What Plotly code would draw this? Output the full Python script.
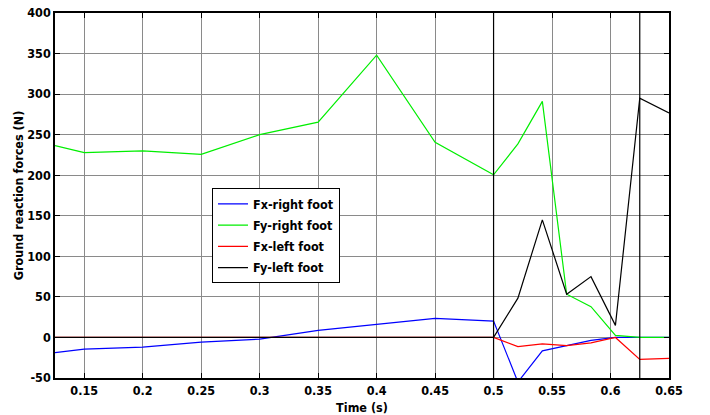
import plotly.graph_objects as go

# Time samples (s)
time_s = [0.125, 0.15, 0.2, 0.25, 0.3, 0.35, 0.4, 0.45, 0.5,
          0.5208, 0.5417, 0.5625, 0.5833, 0.6042, 0.625, 0.65]

fx_right = [-18.6, -14.5, -12.0, -5.8, -2.1, 8.7, 16.0, 23.6, 20.2,
            -55.0, -16.6, -10.0, -3.7, 0.0, 0.0, 0.0]
fy_right = [236.5, 227.8, 230.0, 225.8, 250.0, 265.5, 348.0, 240.7, 200.5,
            238.6, 291.0, 53.3, 38.0, 2.5, 0.0, 0.0]
fx_left = [0.0, 0.0, 0.0, 0.0, 0.0, 0.0, 0.0, 0.0, 0.0,
           -11.2, -7.9, -10.0, -6.7, 0.0, -27.0, -25.7]
fy_left = [0.0, 0.0, 0.0, 0.0, 0.0, 0.0, 0.0, 0.0, 0.0,
           48.4, 145.0, 53.3, 75.0, 14.9, 295.0, 276.7]

series_names = ["Fx-right foot", "Fy-right foot", "Fx-left foot", "Fy-left foot"]
series_colors = ["#0000ff", "#00ee00", "#ff0000", "#000000"]

event_times = [0.5, 0.625]

x_tick_vals = [0.15, 0.2, 0.25, 0.3, 0.35, 0.4, 0.45, 0.5, 0.55, 0.6, 0.65]
x_tick_text = ["0.15", "0.2", "0.25", "0.3", "0.35", "0.4", "0.45", "0.5", "0.55", "0.6", "0.65"]
y_tick_vals = [-50, 0, 50, 100, 150, 200, 250, 300, 350, 400]
y_tick_text = ["-50", "0", "50", "100", "150", "200", "250", "300", "350", "400"]

FONT = "DejaVu Sans Condensed, DejaVu Sans, sans-serif"

fig = go.Figure()
for name, ys, col in zip(series_names, [fx_right, fy_right, fx_left, fy_left], series_colors):
    fig.add_trace(go.Scatter(x=time_s, y=ys, mode="lines", name=name,
                             legendgroup=name,
                             line=dict(color=col, width=1.2)))

for t in event_times:
    fig.add_shape(type="line", xref="x", yref="paper", x0=t, x1=t, y0=0, y1=1,
                  line=dict(color="black", width=1.2))

axis_common = dict(
    showline=True, linecolor="black", linewidth=1.5, mirror="ticks",
    ticks="inside", ticklen=5, tickcolor="black", tickwidth=1,
    showgrid=True, gridcolor="#8a8a8a", gridwidth=1,
    zeroline=False, automargin=False, ticklabeloverflow="allow",
    tickfont=dict(family=FONT, size=12.5, color="black", weight="bold"),
)

fig.update_xaxes(range=[0.125, 0.65], tickvals=x_tick_vals, ticktext=x_tick_text,
                 title=dict(text="Time (s)", standoff=7,
                            font=dict(family=FONT, size=12.5, color="black", weight="bold")),
                 **axis_common)
fig.update_yaxes(range=[-50, 400], tickvals=y_tick_vals, ticktext=y_tick_text,
                 title=dict(text="Ground reaction forces (N)", standoff=1,
                            font=dict(family=FONT, size=12.5, color="black", weight="bold")),
                 **axis_common)

fig.update_layout(
    width=710, height=415,
    margin=dict(l=55, r=41, t=13, b=37),
    plot_bgcolor="white", paper_bgcolor="white",
    font=dict(family=FONT, size=12.5, color="black"),
    showlegend=True,
    hovermode=False,
    legend=dict(x=0.2557, y=0.52, xanchor="left", yanchor="top",
                bgcolor="white", bordercolor="black", borderwidth=1,
                tracegroupgap=2, traceorder="grouped",
                font=dict(family=FONT, size=12.5, color="black", weight="bold")),
)

fig.write_html("out.html",
               config={"displayModeBar": False, "staticPlot": False},
               post_script="document.body.style.margin='0';document.body.style.overflow='hidden';")
